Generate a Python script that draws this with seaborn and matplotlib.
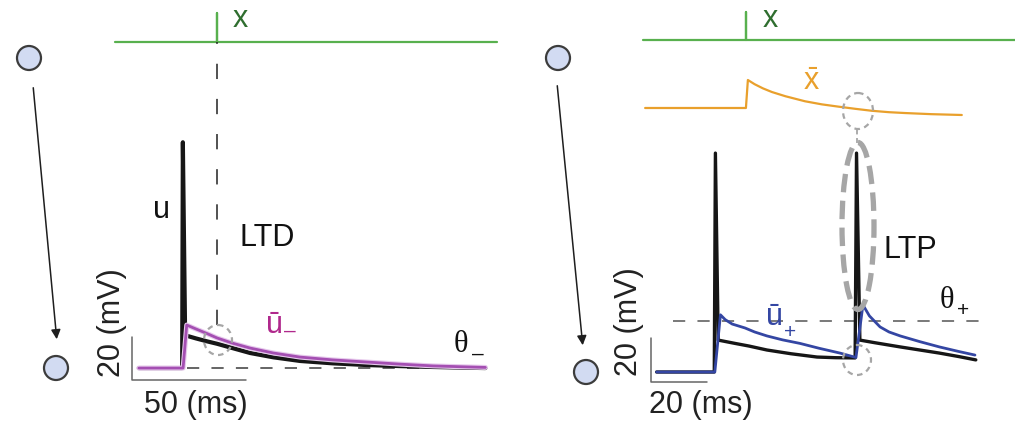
import matplotlib
matplotlib.use("Agg")
import seaborn as sns
import matplotlib.pyplot as plt
from matplotlib.patches import Ellipse
import matplotlib.patheffects as pe

# --- Ustawienia ---
sns.set_style("white")
plt.rcParams["font.family"] = ["Liberation Sans", "DejaVu Sans"]
plt.rcParams["mathtext.fontset"] = "custom"
plt.rcParams["mathtext.rm"] = "Liberation Sans"
plt.rcParams["mathtext.it"] = "Liberation Sans"

W, H = 1015, 426
FS = 22

# --- Dane: panel LTD (t w ms, V w mV ponad spoczynek) ---
ltd_u_t = [3, 22.0, 22.3, 23.3, 24.1, 28, 33, 37.3, 44, 51.8, 62, 73.7, 88, 103, 118, 132, 145, 155]
ltd_u_v = [0, 0, 105, 15, 15.0, 13.8, 12.4, 11.3, 9.3, 7.0, 5.0, 3.3, 2.2, 1.4, 0.9, 0.5, 0.2, 0]
ltd_ubar_t = [3, 22.4, 24.0, 28, 33, 37.3, 44, 51.8, 62, 73.7, 88, 103, 118, 132, 145, 155]
ltd_ubar_v = [0, 0, 20, 18.2, 16.0, 14.0, 11.6, 9.3, 7.0, 5.1, 3.8, 2.8, 1.8, 1.0, 0.6, 0.3]
ltd_theta = 0.0
ltd_theta_span = [24, 155]
ltd_pre_t = [-7.5, 37.3, 37.3, 37.3, 160]
ltd_pre_v = [0, 0, 1, 0, 0]
ltd_scale_ms, ltd_scale_mv = 50, 20

# --- Dane: panel LTP ---
ltp_u_t = [2, 22.6, 23.0, 24.0, 30, 35, 41.4, 50, 59.3, 66, 72.9, 73.4, 74.6, 80, 89, 96, 103, 110, 116]
ltp_u_v = [0, 0, 99.5, 14.5, 13.0, 11.8, 10.0, 8.3, 6.8, 6.5, 6.4, 99.5, 14.5, 13.3, 11.4, 10.0, 8.6, 7.0, 5.5]
ltp_ubar_t = [2, 22.8, 24.8, 26.5, 29, 33.6, 37, 41.4, 47, 53.2, 60, 67.5, 73.2,
              75.7, 78, 81.8, 85, 89, 96, 103, 110, 115.7]
ltp_ubar_v = [0, 0, 26, 23.8, 21.8, 20, 18.2, 16.4, 14.6, 13.0, 10.8, 8.6, 6.6,
              30.5, 25.5, 20.5, 18.2, 16.4, 13.8, 11.4, 9.3, 7.7]
ltp_theta = 23.2
ltp_theta_span = [7.9, 120]
ltp_pre_t = [-2.9, 33.9, 33.9, 33.9, 130]
ltp_pre_v = [0, 0, 1, 0, 0]
ltp_xbar_t = [-2.1, 33.9, 34.6, 37, 40, 43.2, 48, 55, 61, 66.8, 73, 78.9, 85, 90.7, 100, 111]
ltp_xbar_v = [0, 0, 1.0, 0.85, 0.70, 0.57, 0.42, 0.24, 0.13, 0.05, -0.03, -0.10, -0.15, -0.18, -0.22, -0.25]
ltp_scale_ms, ltp_scale_mv = 20, 20

GREEN = "#58b04e"
DKGREEN = "#2f6e2f"
MAGENTA = "#a44fb2"
MAG_TXT = "#b0288c"
BLUE = "#3446a3"
ORANGE = "#e9a02c"
GRAY = "#a6a6a6"

fig = plt.figure(figsize=(W / 100, H / 100), dpi=100)
fig.patch.set_facecolor("white")


def px_axes(x0, y0, x1, y1, xlim, ylim):
    ax = fig.add_axes([x0 / W, 1 - y1 / H, (x1 - x0) / W, (y1 - y0) / H])
    ax.set_xlim(*xlim)
    ax.set_ylim(*ylim)
    ax.set_axis_off()
    ax.patch.set_alpha(0)
    return ax


def line(ax, t, v, **kw):
    sns.lineplot(x=t, y=v, ax=ax, estimator=None, sort=False, **kw)


# --- Panel LTD ---
ax_pre_l = px_axes(100, 0, 500, 55, (-14.04, 161.4), (-0.448, 1.448))
line(ax_pre_l, ltd_pre_t, ltd_pre_v, color=GREEN, lw=1.6)

ax_l = px_axes(100, 130, 500, 390, (-14.04, 161.4), (-10.2, 110.7))
ax_l.plot(ltd_theta_span, [ltd_theta] * 2, color="#3a3a3a", lw=1.1, ls=(0, (8, 8)))
line(ax_l, ltd_u_t, ltd_u_v, color="#161616", lw=3.0)
line(ax_l, ltd_ubar_t, ltd_ubar_v, color=MAGENTA, lw=2.0,
     path_effects=[pe.Stroke(linewidth=3.6, foreground="#e6c8ec"), pe.Normal()])
# presynaptic spike marker (dashed)
ax_l.plot([37.3, 37.3], [20, 151.6], color="#222222", lw=1.1, ls=(0, (10, 13)), clip_on=False)
# scale bars
ax_l.plot([0, 0, ltd_scale_ms], [ltd_scale_mv - 5.6, -5.6, -5.6], color="#666666", lw=1.1)

# --- Panel LTP ---
ax_pre_r = px_axes(630, 0, 1015, 55, (-7.5, 130), (-0.536, 1.4286))
line(ax_pre_r, ltp_pre_t, ltp_pre_v, color=GREEN, lw=1.6)

ax_xb = px_axes(630, 70, 1015, 130, (-7.5, 130), (-0.786, 1.357))
line(ax_xb, ltp_xbar_t, ltp_xbar_v, color=ORANGE, lw=1.6)

ax_r = px_axes(630, 130, 1015, 390, (-7.5, 130), (-8.18, 110))
ax_r.plot(ltp_theta_span, [ltp_theta] * 2, color="#555555", lw=1.1, ls=(0, (8, 8)))
line(ax_r, ltp_u_t, ltp_u_v, color="#161616", lw=2.4)
line(ax_r, ltp_ubar_t, ltp_ubar_v, color=BLUE, lw=2.0)
ax_r.plot([0, 0, ltp_scale_ms], [ltp_scale_mv - 4.5, -4.5, -4.5], color="#666666", lw=1.1)

# --- Nakładka: węzły, strzałki, elipsy, opisy ---
ov = fig.add_axes([0, 0, 1, 1])
ov.set_xlim(0, W)
ov.set_ylim(H, 0)
ov.set_axis_off()
ov.patch.set_alpha(0)

for cx, cy in [(29, 58), (56, 368), (558, 58), (586, 372)]:
    ov.add_patch(Ellipse((cx, cy), 24, 24, facecolor="#d2dbf2", edgecolor="#3c3c3c", lw=1.6))
for (x0, y0), (x1, y1) in [((33, 85), (57, 342)), ((557, 83), (583, 348))]:
    ov.annotate("", xy=(x1, y1), xytext=(x0, y0),
                arrowprops=dict(arrowstyle="-|>", color="#1e1e1e", lw=1.1, mutation_scale=14))

small = dict(fill=False, edgecolor=GRAY, lw=1.6, ls=(0, (2.5, 2)))
ov.add_patch(Ellipse((218, 340), 28, 30, **small))
ov.add_patch(Ellipse((858, 111), 30, 36, **small))
ov.add_patch(Ellipse((857, 360), 28, 30, **small))
ov.add_patch(Ellipse((858, 226), 32, 167, fill=False, edgecolor=GRAY, lw=3.8, ls=(0, (3.5, 1.6))))
ov.plot([857, 857], [129, 143], color=GRAY, lw=1.3, ls=(0, (3, 2)))

ov.text(240, 19, "x", color=DKGREEN, fontsize=FS, ha="center", va="center")
ov.text(770, 19, "x", color=DKGREEN, fontsize=FS, ha="center", va="center")
ov.text(162, 210, "u", color="#111111", fontsize=FS, ha="center", va="center")
ov.text(267, 238, "LTD", color="#111111", fontsize=FS, ha="center", va="center")
ov.text(910, 250, "LTP", color="#111111", fontsize=FS, ha="center", va="center")

ov.text(275, 325, "ū", color=MAG_TXT, fontsize=FS, ha="center", va="center")
ov.text(290, 331, "–", color=MAG_TXT, fontsize=15, ha="center", va="center")
ov.text(775, 317, "ū", color=BLUE, fontsize=FS, ha="center", va="center")
ov.text(790, 333, "+", color=BLUE, fontsize=15, ha="center", va="center")
ov.text(811, 82, r"$\bar{\mathregular{x}}$", color=ORANGE, fontsize=FS, ha="center", va="center")

ov.text(461, 345, "θ", color="#111111", fontsize=FS, family="Liberation Serif", ha="center", va="center")
ov.text(478, 354, "–", color="#111111", fontsize=15, ha="center", va="center")
ov.text(947, 301, "θ", color="#111111", fontsize=FS, family="Liberation Serif", ha="center", va="center")
ov.text(963, 310, "+", color="#111111", fontsize=15, ha="center", va="center")

ov.text(112, 323, "20 (mV)", color="#222222", fontsize=FS, rotation=90, ha="center", va="center")
ov.text(629, 322, "20 (mV)", color="#222222", fontsize=FS, rotation=90, ha="center", va="center")
ov.text(196, 405, "50 (ms)", color="#222222", fontsize=FS, ha="center", va="center")
ov.text(701, 405, "20 (ms)", color="#222222", fontsize=FS, ha="center", va="center")

fig.savefig("out.png", dpi=100)
